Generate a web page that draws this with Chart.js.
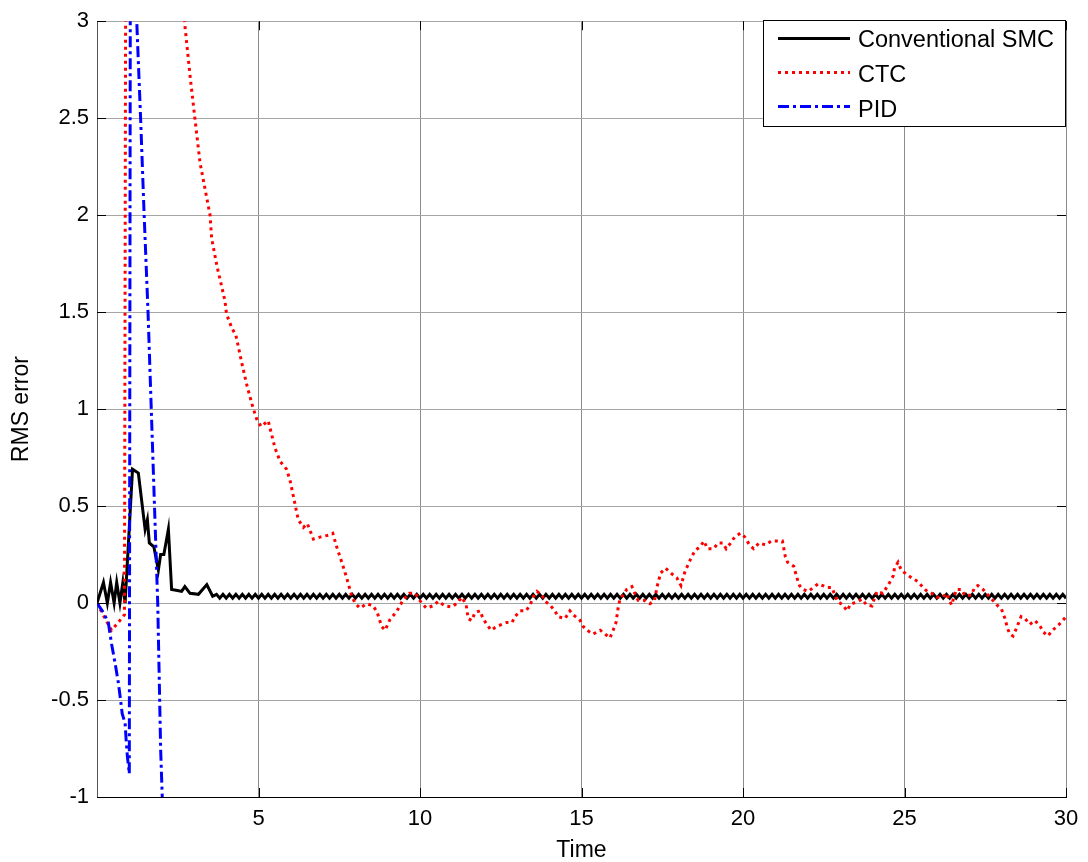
<!DOCTYPE html>
<html><head><meta charset="utf-8">
<script src="https://cdn.jsdelivr.net/npm/chart.js@4.4.1/dist/chart.umd.min.js"></script>
<style>html,body{margin:0;padding:0;background:#fff;}canvas{display:block;}</style>
</head><body>
<canvas id="c" width="1088" height="862"></canvas>
<script>
const FONT = '"Liberation Sans", Arial, Helvetica, sans-serif';
const seriesNames = ['Conventional SMC', 'CTC', 'PID'];
const xTickValues = [5, 10, 15, 20, 25, 30];
const yTickValues = [-1, -0.5, 0, 0.5, 1, 1.5, 2, 2.5, 3];

// Conventional SMC: transient part
const smcT = [0.0,0.2,0.32,0.42,0.53,0.61,0.71,0.8,0.87,1.1,1.28,1.49,1.56,1.62,1.76,1.9,1.97,2.07,2.21,2.31,2.49,2.62,2.72,2.88,3.14,3.4,3.58];
const smcY = [0,0.106,0,0.106,0,0.106,0,0.106,0,0.69,0.67,0.38,0.43,0.31,0.29,0.17,0.25,0.25,0.38,0.07,0.065,0.06,0.085,0.05,0.045,0.095,0.035];
// Conventional SMC: steady chattering, sampled every 0.1 s from t = 3.7
const smcSteadyStart = 3.7, smcSteadyStep = 0.1;
const smcSteadyY = [
0.045,0.025,0.045,0.025,0.045,0.025,0.045,0.025,0.045,0.025,0.045,0.025,0.045,0.025,0.045,0.025,0.045,0.025,0.045,0.025,
0.045,0.025,0.045,0.025,0.045,0.025,0.045,0.025,0.045,0.025,0.045,0.025,0.045,0.025,0.045,0.025,0.045,0.025,0.045,0.025,
0.045,0.025,0.045,0.025,0.045,0.025,0.045,0.025,0.045,0.025,0.045,0.025,0.045,0.025,0.045,0.025,0.045,0.025,0.045,0.025,
0.045,0.025,0.045,0.025,0.045,0.025,0.045,0.025,0.045,0.025,0.045,0.025,0.045,0.025,0.045,0.025,0.045,0.025,0.045,0.025,
0.045,0.025,0.045,0.025,0.045,0.025,0.045,0.025,0.045,0.025,0.045,0.025,0.045,0.025,0.045,0.025,0.045,0.025,0.045,0.025,
0.045,0.025,0.045,0.025,0.045,0.025,0.045,0.025,0.045,0.025,0.045,0.025,0.045,0.025,0.045,0.025,0.045,0.025,0.045,0.025,
0.045,0.025,0.045,0.025,0.045,0.025,0.045,0.025,0.045,0.025,0.045,0.025,0.045,0.025,0.045,0.025,0.045,0.025,0.045,0.025,
0.045,0.025,0.045,0.025,0.045,0.025,0.045,0.025,0.045,0.025,0.045,0.025,0.045,0.025,0.045,0.025,0.045,0.025,0.045,0.025,
0.045,0.025,0.045,0.025,0.045,0.025,0.045,0.025,0.045,0.025,0.045,0.025,0.045,0.025,0.045,0.025,0.045,0.025,0.045,0.025,
0.045,0.025,0.045,0.025,0.045,0.025,0.045,0.025,0.045,0.025,0.045,0.025,0.045,0.025,0.045,0.025,0.045,0.025,0.045,0.025,
0.045,0.025,0.045,0.025,0.045,0.025,0.045,0.025,0.045,0.025,0.045,0.025,0.045,0.025,0.045,0.025,0.045,0.025,0.045,0.025,
0.045,0.025,0.045,0.025,0.045,0.025,0.045,0.025,0.045,0.025,0.045,0.025,0.045,0.025,0.045,0.025,0.045,0.025,0.045,0.025,
0.045,0.025,0.045,0.025,0.045,0.025,0.045,0.025,0.045,0.025,0.045,0.025,0.045,0.025,0.045,0.025,0.045,0.025,0.045,0.025,
0.045,0.025,0.045,0.025
];

// CTC
const ctcT = [0,0.25,0.45,0.66,0.85,0.92,1.6,2.6,2.72,2.88,3.03,3.19,3.5,3.55,3.71,3.96,4.01,4.17,4.3,4.48,
4.63,4.79,4.94,5.08,5.3,5.51,5.67,5.87,5.98,6.13,6.23,6.39,6.51,6.7,6.9,7.16,7.3,7.42,7.58,7.73,
7.89,7.99,8.14,8.35,8.55,8.68,8.81,8.92,9.07,9.28,9.48,9.67,9.85,10.05,10.2,10.41,10.57,10.77,10.99,11.15,
11.3,11.43,11.49,11.6,11.7,11.86,11.95,12.07,12.2,12.38,12.54,12.69,12.85,12.94,13.1,13.28,13.41,13.5,13.62,13.78,
13.87,14.02,14.18,14.27,14.49,14.64,14.74,14.96,15.05,15.17,15.36,15.58,15.73,15.88,15.98,16.07,16.13,16.19,16.28,16.4,
16.56,16.65,16.75,16.93,17.12,17.26,17.34,17.45,17.6,17.8,17.95,18.08,18.2,18.33,18.51,18.67,18.79,18.9,19.09,19.23,
19.37,19.48,19.62,19.74,19.92,20.06,20.2,20.33,20.5,20.7,20.88,21.06,21.22,21.31,21.38,21.57,21.67,21.75,21.86,22.02,
22.18,22.33,22.47,22.61,22.75,22.85,22.92,23.09,23.22,23.33,23.52,23.68,23.83,23.99,24.07,24.15,24.33,24.52,24.65,24.69,
24.8,24.9,25.05,25.22,25.42,25.58,25.7,25.84,25.99,26.18,26.3,26.39,26.46,26.53,26.61,26.77,26.86,27.07,27.17,27.27,
27.43,27.59,27.73,27.86,28.0,28.11,28.19,28.26,28.36,28.44,28.61,28.73,28.88,29.04,29.2,29.3,29.44,29.58,29.73,29.9,
30.0];
const ctcY = [0,-0.08,-0.14,-0.10,-0.06,6,30,3.25,2.98,2.72,2.50,2.27,2.0,1.88,1.74,1.56,1.49,1.42,1.38,1.24,
1.13,1.03,0.95,0.91,0.94,0.80,0.73,0.69,0.63,0.51,0.43,0.39,0.41,0.33,0.34,0.35,0.36,0.29,0.21,0.13,
0.034,0,-0.026,-0.004,-0.014,-0.05,-0.12,-0.14,-0.085,-0.043,0.017,0.05,0.05,0,-0.026,-0.014,0.009,-0.014,-0.02,0.0,
0.03,-0.01,-0.08,-0.09,-0.05,-0.04,-0.08,-0.11,-0.14,-0.12,-0.11,-0.10,-0.10,-0.07,-0.04,-0.04,-0.01,0.03,0.06,0.04,
0.01,-0.01,-0.04,-0.07,-0.08,-0.04,-0.06,-0.09,-0.12,-0.14,-0.16,-0.14,-0.16,-0.18,-0.14,-0.10,-0.03,0.02,0.04,0.07,
0.085,0.05,0.015,0.015,-0.003,0.012,0.085,0.155,0.18,0.15,0.13,0.09,0.16,0.21,0.27,0.29,0.32,0.28,0.28,0.31,
0.31,0.28,0.31,0.34,0.36,0.34,0.30,0.28,0.31,0.30,0.32,0.32,0.32,0.24,0.21,0.19,0.13,0.09,0.07,0.06,
0.08,0.10,0.09,0.08,0.08,0.04,0.01,-0.01,-0.04,-0.005,0.005,0.02,-0.01,-0.015,0.025,0.06,0.05,0.10,0.14,0.18,
0.21,0.17,0.15,0.13,0.11,0.08,0.06,0.05,0.03,0.03,0.05,0.015,-0.01,0.03,0.07,0.07,0.04,0.04,0.08,0.09,
0.07,0.04,0.015,-0.01,-0.03,-0.08,-0.13,-0.16,-0.17,-0.14,-0.07,-0.08,-0.11,-0.09,-0.12,-0.15,-0.17,-0.14,-0.12,-0.09,
-0.07];

// PID
const pidT = [0,0.2,0.35,0.45,0.56,0.66,0.73,0.78,0.87,0.9,0.94,1.0,1.1,1.2,1.23,1.35,1.46,1.58,1.68,1.78,1.88,1.97,2.02,2.1];
const pidY = [0,-0.05,-0.10,-0.21,-0.31,-0.41,-0.50,-0.57,-0.62,-0.70,-0.79,-0.88,12,3.4,3.0,2.5,2.0,1.5,1.0,0.5,0.0,-0.75,-1.0,-3];

function pts(t, y) { return t.map((v, i) => ({ x: v, y: y[i] })); }
const smcPoints = pts(smcT, smcY).concat(
  smcSteadyY.map((v, i) => ({ x: +(smcSteadyStart + i * smcSteadyStep).toFixed(2), y: v }))
);

const tickMarks = {
  id: 'tickMarks',
  afterDatasetsDraw(chart) {
    const { ctx, chartArea: a, scales: { x, y } } = chart;
    const len = 9;
    ctx.save();
    ctx.strokeStyle = '#000';
    ctx.lineWidth = 1;
    ctx.beginPath();
    xTickValues.forEach(v => {
      const px = Math.round(x.getPixelForValue(v)) + 0.5;
      ctx.moveTo(px, a.bottom); ctx.lineTo(px, a.bottom - len);
      ctx.moveTo(px, a.top); ctx.lineTo(px, a.top + len);
    });
    yTickValues.forEach(v => {
      const py = Math.round(y.getPixelForValue(v)) + 0.5;
      ctx.moveTo(a.left, py); ctx.lineTo(a.left + len, py);
      ctx.moveTo(a.right, py); ctx.lineTo(a.right - len, py);
    });
    ctx.stroke();
    ctx.restore();
  }
};

const boxLegend = {
  id: 'boxLegend',
  afterDraw(chart) {
    const { ctx, chartArea: a } = chart;
    const L = 763, T = Math.round(a.top) - 1, R = Math.round(a.right), B = 127;
    ctx.save();
    ctx.fillStyle = '#fff';
    ctx.fillRect(L, T, R - L, B - T);
    ctx.strokeStyle = '#000';
    ctx.lineWidth = 1;
    ctx.strokeRect(L + 0.5, T + 0.5, R - L - 1, B - T - 1);
    const rows = [38.5, 72.5, 106.5];
    const base = [47, 82, 117];
    chart.data.datasets.forEach((ds, i) => {
      ctx.beginPath();
      ctx.setLineDash(ds.borderDash || []);
      ctx.strokeStyle = ds.borderColor;
      ctx.lineWidth = ds.borderWidth;
      ctx.moveTo(778, rows[i]); ctx.lineTo(850, rows[i]);
      ctx.stroke();
      ctx.setLineDash([]);
      ctx.fillStyle = '#000';
      ctx.font = '23.5px ' + FONT;
      ctx.textAlign = 'left';
      ctx.textBaseline = 'alphabetic';
      ctx.fillText(ds.label, 858, base[i]);
    });
    ctx.restore();
  }
};

new Chart(document.getElementById('c'), {
  type: 'line',
  data: {
    datasets: [
      { label: seriesNames[0], data: smcPoints, borderColor: '#000000', borderWidth: 3, order: 3 },
      { label: seriesNames[1], data: pts(ctcT, ctcY), borderColor: '#ff0000', borderWidth: 3, borderDash: [3, 4], order: 2 },
      { label: seriesNames[2], data: pts(pidT, pidY), borderColor: '#0000ff', borderWidth: 3, borderDash: [11, 4, 3, 4], order: 1 }
    ]
  },
  options: {
    responsive: false,
    animation: false,
    devicePixelRatio: 1,
    parsing: true,
    elements: { point: { radius: 0 }, line: { tension: 0, borderCapStyle: 'butt', borderJoinStyle: 'miter', fill: false } },
    layout: { padding: { top: 17, right: 22, left: 0, bottom: 0 } },
    plugins: { legend: { display: false }, tooltip: { enabled: false } },
    scales: {
      x: {
        type: 'linear', min: 0, max: 30,
        afterFit: s => { s.height = 65; },
        ticks: {
          stepSize: 5, padding: 9, color: '#000', maxRotation: 0, autoSkip: false,
          font: { family: FONT, size: 22 },
          callback: v => (v === 0 ? '' : String(v))
        },
        grid: {
          drawTicks: false,
          color: c => (c.tick && c.tick.value === 0 ? 'rgba(0,0,0,0)' : '#8c8c8c'),
          lineWidth: 1
        },
        border: { display: true, color: '#000', width: 1 },
        title: { display: true, text: 'Time', color: '#000', font: { family: FONT, size: 23, lineHeight: 1 }, padding: { top: 0, bottom: 0 } }
      },
      y: {
        min: -1, max: 3,
        afterFit: s => { s.width = 97; },
        ticks: {
          stepSize: 0.5, padding: 8, color: '#000', autoSkip: false,
          font: { family: FONT, size: 22 },
          callback: v => String(v)
        },
        grid: { drawTicks: false, color: '#a6a6a6', lineWidth: 1 },
        border: { display: true, color: '#555', width: 1 },
        title: { display: true, text: 'RMS error', color: '#000', font: { family: FONT, size: 23, lineHeight: 1 }, padding: { top: 10, bottom: 0 } }
      }
    }
  },
  plugins: [tickMarks, boxLegend]
});
</script>
</body></html>
